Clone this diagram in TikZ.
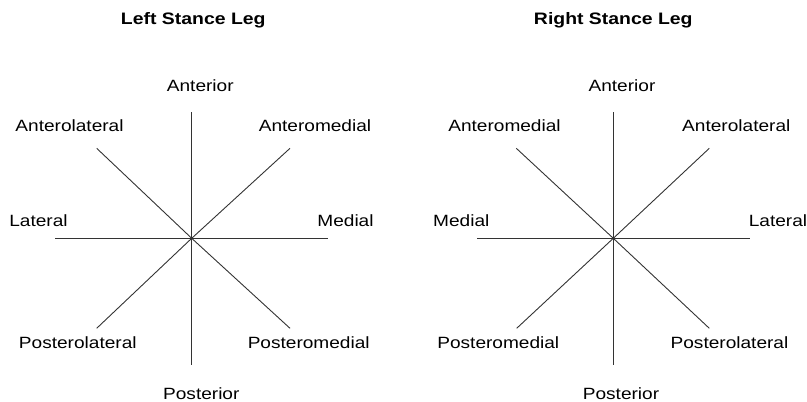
\documentclass[tikz,border=0pt]{standalone}
\usepackage{fontspec}
\setmainfont{Liberation Sans}[FakeStretch=1.17]
\begin{document}
\begin{tikzpicture}[x=1pt,y=-1pt,
  lbl/.style={anchor=base,inner sep=0pt,font=\fontsize{16.3}{19}\selectfont},
  ttl/.style={anchor=base,inner sep=0pt,font=\fontsize{16.6}{19}\selectfont\bfseries},
  ray/.style={draw=black!80,line width=0.9pt}]
\useasboundingbox (0,0) rectangle (807,402);
% ---------- Left stance leg ----------
\node[ttl] (t1) at (193.3,24.3) {Left Stance Leg};
\coordinate (c1) at (191.7,238.3);
\coordinate (n1) at (191.7,111.7);
\coordinate (s1) at (191.7,365);
\coordinate (w1) at (55,238.3);
\coordinate (e1) at (328.3,238.3);
\coordinate (nw1) at (96.7,148.3);
\coordinate (ne1) at (290,148.3);
\coordinate (sw1) at (96.7,328.3);
\coordinate (se1) at (290,328.3);
\foreach \p in {n1,s1,w1,e1,nw1,ne1,sw1,se1} \draw[ray] (c1) -- (\p);
\node[lbl] (a1) at (200.3,91.7) {Anterior};
\node[lbl] (al1) at (69.5,131.7) {Anterolateral};
\node[lbl] (am1) at (315,131.7) {Anteromedial};
\node[lbl] (l1) at (38.5,226.4) {Lateral};
\node[lbl] (m1) at (345.5,226.4) {Medial};
\node[lbl] (pl1) at (77.8,348.4) {Posterolateral};
\node[lbl] (pm1) at (308.7,348.4) {Posteromedial};
\node[lbl] (p1) at (201.3,399.7) {Posterior};
% ---------- Right stance leg ----------
\node[ttl] (t2) at (613.3,24.3) {Right Stance Leg};
\coordinate (c2) at (613.3,238.3);
\coordinate (n2) at (613.3,111.7);
\coordinate (s2) at (613.3,365);
\coordinate (w2) at (476.7,238.3);
\coordinate (e2) at (750,238.3);
\coordinate (nw2) at (516.3,148.3);
\coordinate (ne2) at (709.3,148.3);
\coordinate (sw2) at (516.7,328.3);
\coordinate (se2) at (709.3,328.3);
\foreach \p in {n2,s2,w2,e2,nw2,ne2,sw2,se2} \draw[ray] (c2) -- (\p);
\node[lbl] (a2) at (622,91.7) {Anterior};
\node[lbl] (am2) at (504.5,131.7) {Anteromedial};
\node[lbl] (al2) at (736.3,131.7) {Anterolateral};
\node[lbl] (m2) at (461.3,226.4) {Medial};
\node[lbl] (l2) at (778,226.4) {Lateral};
\node[lbl] (pm2) at (498.3,348.4) {Posteromedial};
\node[lbl] (pl2) at (729.5,348.4) {Posterolateral};
\node[lbl] (p2) at (621,399.7) {Posterior};
\end{tikzpicture}
\end{document}
